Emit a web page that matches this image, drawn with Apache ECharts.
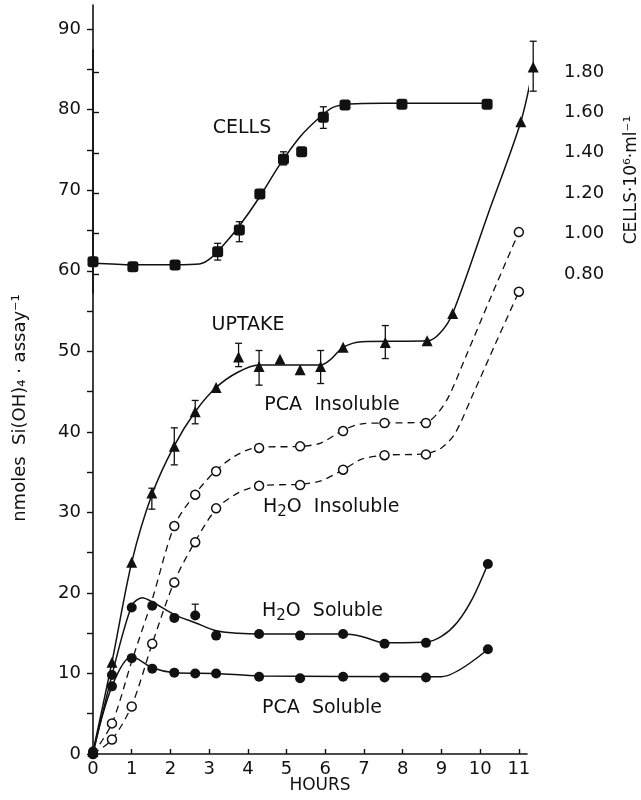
<!DOCTYPE html>
<html>
<head>
<meta charset="utf-8">
<script src="https://cdn.jsdelivr.net/npm/echarts@6/dist/echarts.min.js"></script>
<style>
  html, body { margin: 0; padding: 0; background: #fff; }
  #chart { width: 641px; height: 800px; }
</style>
</head>
<body>
<div id="chart"></div>
<script>
// ---- axis ticks ----
const hourTicks = [0, 1, 2, 3, 4, 5, 6, 7, 8, 9, 10, 11];
const siTicks = [0, 5, 10, 15, 20, 25, 30, 35, 40, 45, 50, 55, 60, 65, 70, 75, 80, 85, 90];
const siLabels = [0, 10, 20, 30, 40, 50, 60, 70, 80, 90];
const cellTicks = [0.8, 1.0, 1.2, 1.4, 1.6, 1.8];

// ---- measurements: [hours, nmoles Si(OH)4 per assay] ----
const uptake = [[0, 0.3], [0.49, 11.4], [1.0, 23.8], [1.52, 32.4], [2.1, 38.2], [2.64, 42.5],
  [3.18, 45.5], [3.76, 49.3], [4.29, 48.1], [4.83, 49.0], [5.35, 47.7], [5.88, 48.1],
  [6.46, 50.5], [7.55, 51.1], [8.63, 51.3], [9.29, 54.7], [11.05, 78.5], [11.37, 85.3]];
const uptakeErr = [[1.52, 30.4, 33.0], [2.1, 35.9, 40.5], [2.64, 41.0, 43.9], [3.76, 48.1, 51.0],
  [4.29, 45.8, 50.1], [5.88, 46.0, 50.1], [7.55, 49.1, 53.2], [11.37, 82.3, 88.5]];

const pcaInsoluble = [[0, 0], [0.49, 3.8], [2.1, 28.3], [2.64, 32.2], [3.18, 35.1], [4.29, 38.0],
  [5.35, 38.2], [6.46, 40.1], [7.53, 41.1], [8.6, 41.1], [11.0, 64.8]];
const h2oInsoluble = [[0.49, 1.8], [1.0, 5.9], [1.53, 13.7], [2.1, 21.3], [2.64, 26.3],
  [3.18, 30.5], [4.29, 33.3], [5.35, 33.4], [6.46, 35.3], [7.53, 37.1], [8.6, 37.2], [11.0, 57.4]];

const h2oSoluble = [[0, 0], [0.49, 9.8], [1.0, 18.2], [1.53, 18.4], [2.1, 16.9], [2.64, 17.2],
  [3.18, 14.7], [4.29, 14.9], [5.35, 14.7], [6.46, 14.9], [7.53, 13.7], [8.6, 13.8], [10.2, 23.6]];
const h2oSolubleErr = [[2.64, 17.2, 18.6]];
const pcaSoluble = [[0, 0.3], [0.49, 8.4], [1.0, 11.9], [1.53, 10.6], [2.1, 10.1], [2.64, 10.0],
  [3.18, 10.0], [4.29, 9.6], [5.35, 9.4], [6.46, 9.6], [7.53, 9.5], [8.6, 9.5], [10.2, 13.0]];

// ---- cell density: [hours, cells x 10^6 per ml] ----
const cells = [[0, 0.861], [1.03, 0.836], [2.12, 0.845], [3.22, 0.910], [3.78, 1.018],
  [4.31, 1.196], [4.92, 1.368], [5.39, 1.405], [5.95, 1.576], [6.51, 1.637], [7.98, 1.640],
  [10.18, 1.640]];
const cellsErr = [[3.22, 0.869, 0.952], [3.78, 0.960, 1.059], [4.92, 1.340, 1.405],
  [5.95, 1.521, 1.628]];

// ---- hand-drawn fitted curves ----
const cellsCurve = [[0, 0.855], [1.03, 0.846], [2.12, 0.846], [2.75, 0.85], [3.05, 0.88],
  [3.4, 0.95], [3.75, 1.03], [4.3, 1.18], [4.82, 1.34], [5.35, 1.48], [5.88, 1.58], [6.2, 1.625],
  [6.62, 1.642], [7.5, 1.645], [10.18, 1.645]];
const uptakeCurve = [[0, 0.3], [0.49, 11.4], [1.0, 23.8], [1.53, 32.3], [2.1, 38.3], [2.64, 42.5],
  [3.18, 45.5], [3.74, 47.4], [4.29, 48.3], [5.88, 48.3], [6.14, 49.0], [6.46, 50.5],
  [6.94, 51.2], [8.65, 51.3], [8.97, 52.3], [9.29, 54.7], [10.2, 67.0], [11.05, 78.5],
  [11.37, 85.3]];
const pcaInsolubleCurve = [[0, 0], [0.49, 3.8], [1.0, 11.5], [1.53, 19.2], [2.1, 28.3],
  [2.64, 32.3], [3.18, 35.2], [3.74, 37.2], [4.29, 38.1], [5.35, 38.2], [5.88, 38.6],
  [6.46, 40.2], [6.94, 41.0], [7.53, 41.1], [8.6, 41.2], [8.9, 42.3], [9.2, 44.5], [9.6, 49.0],
  [10.3, 57.0], [11.0, 64.8]];
const h2oInsolubleCurve = [[0, 0], [0.49, 1.8], [1.0, 6.0], [1.53, 13.7], [2.1, 21.4],
  [2.64, 26.4], [3.18, 30.4], [3.74, 32.4], [4.29, 33.3], [5.35, 33.5], [5.88, 33.9],
  [6.46, 35.3], [6.94, 36.6], [7.53, 37.1], [8.6, 37.3], [9.0, 38.0], [9.35, 39.8], [9.8, 44.5],
  [10.4, 51.0], [11.0, 57.4]];
const h2oSolubleCurve = [[0, 0], [0.49, 9.8], [1.0, 18.4], [1.27, 19.4], [1.53, 18.9],
  [2.1, 17.3], [2.64, 16.3], [3.18, 15.3], [3.74, 15.0], [4.29, 14.9], [6.46, 14.9],
  [6.94, 14.6], [7.53, 13.8], [8.6, 13.9], [9.0, 14.6], [9.4, 16.3], [9.8, 19.3], [10.2, 23.6]];
const pcaSolubleCurve = [[0, 0.3], [0.49, 8.4], [1.0, 12.1], [1.53, 10.7], [2.1, 10.1],
  [3.18, 10.0], [4.29, 9.7], [8.6, 9.6], [9.0, 9.6], [10.2, 13.0]];

const INK = '#111';
const FONT = 'DejaVu Sans';

function curve(data, dashed, axisIndex) {
  return {
    type: 'line', data: data, xAxisIndex: axisIndex || 0, yAxisIndex: axisIndex || 0,
    showSymbol: false, smooth: 0.3, silent: true, clip: false, z: 2,
    lineStyle: { color: INK, width: dashed ? 1.3 : 1.5, type: dashed ? [7, 5] : 'solid' }
  };
}
function marks(data, symbol, size, open, axisIndex) {
  return {
    type: 'scatter', data: data, xAxisIndex: axisIndex || 0, yAxisIndex: axisIndex || 0,
    symbol: symbol, symbolSize: size, clip: false, z: 4,
    itemStyle: open
      ? { color: '#fff', borderColor: INK, borderWidth: 1.5, opacity: 1 }
      : { color: INK, opacity: 1 }
  };
}
function errorBars(data, axisIndex) {
  return {
    type: 'custom', data: data, xAxisIndex: axisIndex || 0, yAxisIndex: axisIndex || 0, z: 3,
    encode: { x: 0, y: [1, 2] },
    renderItem: function (params, api) {
      const lo = api.coord([api.value(0), api.value(1)]);
      const hi = api.coord([api.value(0), api.value(2)]);
      const w = 3.5, st = { stroke: INK, lineWidth: 1.3 };
      return {
        type: 'group', children: [
          { type: 'line', shape: { x1: lo[0], y1: lo[1], x2: hi[0], y2: hi[1] }, style: st },
          { type: 'line', shape: { x1: lo[0] - w, y1: lo[1], x2: lo[0] + w, y2: lo[1] }, style: st },
          { type: 'line', shape: { x1: hi[0] - w, y1: hi[1], x2: hi[0] + w, y2: hi[1] }, style: st }
        ]
      };
    }
  };
}
function label(text, x, y, size, rotation, align) {
  const a = align || 'center';
  return {
    type: 'text', x: x, y: y, rotation: rotation || 0, silent: true,
    style: {
      text: text, fontFamily: FONT, fontSize: size, fill: INK,
      align: a, verticalAlign: 'middle', textAlign: a, textVerticalAlign: 'middle'
    }
  };
}
// "H2O ..." with a lowered numeral
function waterLabel(rest, x, y) {
  return [
    label('H', x, y, 19, 0, 'left'),
    label('2', x + 14.3, y + 5, 15, 0, 'left'),
    label('O' + rest, x + 23.8, y, 19, 0, 'left')
  ];
}

const axisText = { fontFamily: FONT, fontSize: 18, color: INK };

const chart = echarts.init(document.getElementById('chart'), null, { renderer: 'canvas' });
chart.setOption({
  animation: false,
  backgroundColor: '#fff',
  grid: [
    { left: 93, right: 114, top: 5, bottom: 46 },
    { left: 93, right: 85, top: 50, bottom: 507 }
  ],
  xAxis: [
    {
      gridIndex: 0, type: 'value', min: 0, max: 11.21,
      axisLine: { show: true, lineStyle: { color: INK, width: 1.6 } },
      axisTick: { show: true, inside: true, length: 5, customValues: hourTicks, lineStyle: { color: INK, width: 1.4 } },
      axisLabel: Object.assign({ customValues: hourTicks, margin: 6 }, axisText),
      splitLine: { show: false }
    },
    { gridIndex: 1, type: 'value', min: 0, max: 11.96, show: false }
  ],
  yAxis: [
    {
      gridIndex: 0, type: 'value', min: 0, max: 93,
      axisLine: { show: true, lineStyle: { color: INK, width: 1.6 } },
      axisTick: { show: true, length: 6, customValues: siTicks, lineStyle: { color: INK, width: 1.4 } },
      axisLabel: Object.assign({ customValues: siLabels, margin: 12 }, axisText),
      splitLine: { show: false }
    },
    {
      gridIndex: 1, type: 'value', position: 'right', min: 0.706, max: 1.909,
      axisLine: { show: true, lineStyle: { color: INK, width: 1.6 } },
      axisTick: { show: true, length: 6, customValues: cellTicks, lineStyle: { color: INK, width: 1.4 } },
      axisLabel: Object.assign({
        customValues: cellTicks, margin: 8,
        formatter: function (v) { return v.toFixed(2); }
      }, axisText),
      splitLine: { show: false }
    }
  ],
  series: [
    curve(cellsCurve, false, 1),
    curve(uptakeCurve, false),
    curve(pcaInsolubleCurve, true),
    curve(h2oInsolubleCurve, true),
    curve(h2oSolubleCurve, false),
    curve(pcaSolubleCurve, false),
    errorBars(cellsErr, 1),
    errorBars(uptakeErr),
    errorBars(h2oSolubleErr),
    marks(cells, 'roundRect', 11, false, 1),
    marks(uptake, 'triangle', 11, false),
    marks(pcaInsoluble, 'circle', 9, true),
    marks(h2oInsoluble, 'circle', 9, true),
    marks(h2oSoluble, 'circle', 10, false),
    marks(pcaSoluble, 'circle', 10, false)
  ],
  graphic: [
    label('CELLS', 242, 128, 19),
    label('UPTAKE', 248, 325, 19),
    label('PCA  Insoluble', 332, 405, 19),
    label('PCA  Soluble', 322, 708, 19),
    label('HOURS', 320, 786, 17),
    label('nmoles  Si(OH)₄ · assay⁻¹', 20, 408, 18, Math.PI / 2),
    label('CELLS·10⁶·ml⁻¹', 632, 180, 17, Math.PI / 2)
  ].concat(waterLabel('  Insoluble', 263, 507), waterLabel('  Soluble', 262, 611))
});
</script>
</body>
</html>
